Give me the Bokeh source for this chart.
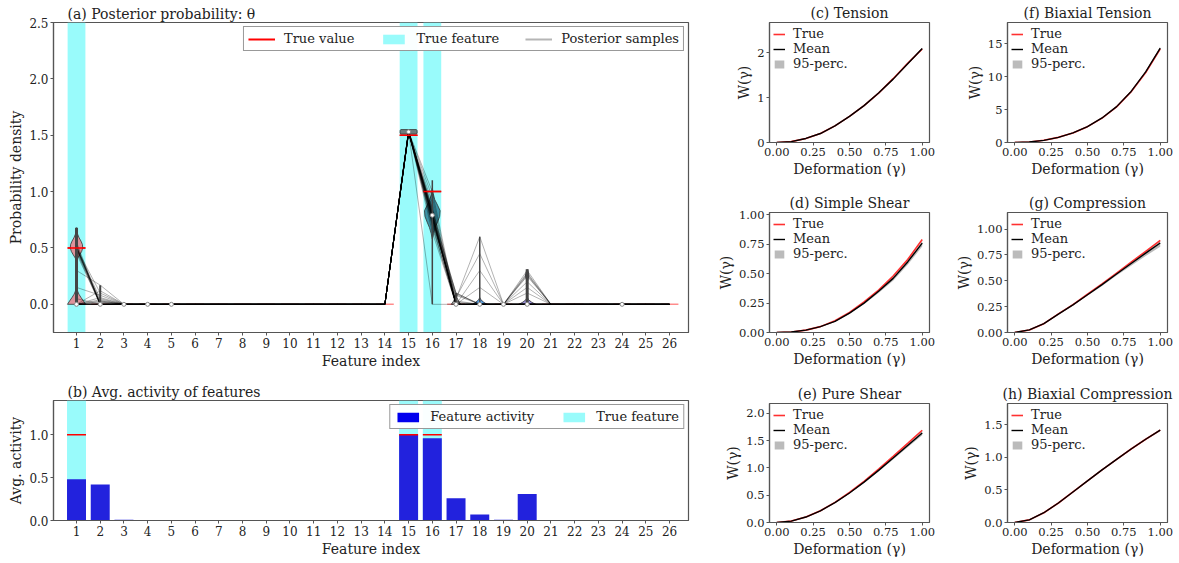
from bokeh.plotting import figure
from bokeh.layouts import row, column
from bokeh.models import Range1d, FixedTicker, PrintfTickFormatter, Legend, LegendItem
from bokeh.embed import file_html
from bokeh.resources import INLINE

FONT = "DejaVu Serif"
NAN = float("nan")

# ---------------- data: panel (a) ----------------
features = list(range(1, 27))
true_features = [1, 15, 16]
true_value = [0.5, 0, 0, 0, 0, 0, 0, 0, 0, 0, 0, 0, 0, 0, 1.5, 1.0,
              0, 0, 0, 0, 0, 0, 0, 0, 0, 0]

# posterior samples (values per feature; features not listed are 0 in every sample)
s_f1 = [0.5, 0.52, 0.48, 0.51, 0.49, 0.53, 0.47, 0.5, 0.55, 0.45, 0.5, 0.51, 0.49, 0.3, 0.15,
        0, 0, 0, 0, 0, 0, 0, 0, 0, 0, 0, 0, 0, 0, 0.05]
s_f2 = [0, 0, 0, 0, 0.02, 0, 0, 0.05, 0, 0, 0.1, 0, 0.03, 0.17, 0.08,
        0, 0.04, 0, 0.06, 0, 0.02, 0, 0.12, 0, 0, 0.01, 0, 0, 0.03, 0]
s_f15 = [1.53, 1.52, 1.54, 1.53, 1.53, 1.52, 1.54, 1.53, 1.53, 1.52, 1.53, 1.54, 1.53, 1.52, 1.53,
         1.53, 1.54, 1.53, 1.52, 1.53, 1.53, 1.54, 1.53, 1.52, 1.53, 1.53, 1.54, 1.53, 1.52, 1.53]
s_f16 = [0.78, 0.8, 0.75, 0.82, 0.7, 0.85, 0.77, 0.79, 0.72, 0.9, 0.76, 0.81, 0.74, 0.83, 0.78,
         0.68, 0.8, 0.95, 0.77, 0.73, 0.86, 0.79, 0.64, 0.81, 0.76, 1.0, 0.78, 0.71, 0.84, 0]
s_f17 = [0, 0, 0.1, 0, 0, 0.05, 0, 0, 0.08, 0, 0, 0, 0.03, 0, 0,
         0, 0.1, 0, 0, 0.06, 0, 0, 0, 0, 0.02, 0, 0, 0, 0.09, 0]
s_f18 = [0, 0, 0, 0, 0, 0.6, 0, 0, 0, 0, 0, 0.3, 0, 0, 0,
         0, 0, 0, 0, 0.45, 0, 0, 0, 0, 0, 0, 0.15, 0, 0, 0]
s_f20 = [0, 0.27, 0, 0, 0, 0, 0.25, 0, 0, 0.3, 0, 0, 0, 0, 0.1,
         0, 0, 0.2, 0, 0, 0, 0.28, 0, 0, 0, 0.15, 0, 0, 0, 0.26]
sample_cols = {1: s_f1, 2: s_f2, 15: s_f15, 16: s_f16, 17: s_f17, 18: s_f18, 20: s_f20}

# violin outlines (y, half width) per feature
v1_y = [0.0, 0.03, 0.06, 0.09, 0.12, 0.15, 0.38, 0.41, 0.44, 0.47, 0.50, 0.53, 0.56, 0.59, 0.62, 0.65, 0.68]
v1_w = [0.38, 0.29, 0.19, 0.10, 0.04, 0.02, 0.01, 0.05, 0.14, 0.22, 0.26, 0.25, 0.19, 0.11, 0.05, 0.02, 0.0]
v15_y = [1.51, 1.52, 1.53, 1.54, 1.55]
v15_w = [0.33, 0.36, 0.36, 0.36, 0.33]
v16_y = [0.58, 0.63, 0.68, 0.73, 0.78, 0.83, 0.88, 0.93, 0.98, 1.03]
v16_w = [0.0, 0.05, 0.12, 0.22, 0.31, 0.33, 0.22, 0.10, 0.04, 0.0]
v17_y = [0.0, 0.03, 0.06, 0.10]
v17_w = [0.2, 0.1, 0.04, 0.0]
v18_y = [0.0, 0.02, 0.04, 0.06]
v18_w = [0.30, 0.16, 0.05, 0.0]
v20_y = [0.0, 0.02, 0.04, 0.06, 0.10, 0.20, 0.23, 0.26, 0.29, 0.31]
v20_w = [0.35, 0.18, 0.06, 0.01, 0.01, 0.01, 0.05, 0.07, 0.04, 0.0]
violins = [(1, v1_y, v1_w, "#e8808a"), (15, v15_y, v15_w, "#666666"), (16, v16_y, v16_w, "#2a7f94"),
           (17, v17_y, v17_w, "#999999"), (18, v18_y, v18_w, "#3a8ee0"), (20, v20_y, v20_w, "#8a7fd6")]

# extrema bars
cbar_x = [1, 2, 16, 17, 18, 20]
cbar_lo = [0, 0, 0, 0, 0, 0]
cbar_hi = [0.68, 0.17, 1.1, 0.1, 0.6, 0.31]
cbar_style_w = [3.0, 2.0, 1.5, 1.5, 1.5, 3.0]

# medians
med_x = [1, 2, 3, 4, 5, 15, 16, 17, 18, 19, 20, 24]
med_y = [0, 0, 0, 0, 0, 1.53, 0.79, 0, 0, 0, 0, 0]

# ---------------- data: panel (b) ----------------
activity = [0.48, 0.42, 0.01, 0, 0, 0, 0, 0, 0, 0, 0, 0, 0, 0, 1.0, 0.96,
            0.26, 0.07, 0.01, 0.31, 0, 0, 0, 0, 0, 0]
true_activity = [1, 0, 0, 0, 0, 0, 0, 0, 0, 0, 0, 0, 0, 0, 1, 1,
                 0, 0, 0, 0, 0, 0, 0, 0, 0, 0]

# ---------------- data: right panels ----------------
gamma = [0.0, 0.1, 0.2, 0.3, 0.4, 0.5, 0.6, 0.7, 0.8, 0.9, 1.0]
c_true = [0, 0.02, 0.09, 0.20, 0.37, 0.58, 0.82, 1.10, 1.42, 1.76, 2.08]
c_mean = [0, 0.02, 0.09, 0.20, 0.37, 0.58, 0.82, 1.10, 1.41, 1.75, 2.09]
c_lo = [0, 0.02, 0.088, 0.197, 0.365, 0.573, 0.81, 1.087, 1.395, 1.73, 2.06]
c_hi = [0, 0.02, 0.092, 0.203, 0.375, 0.587, 0.83, 1.113, 1.425, 1.77, 2.11]

d_true = [0, 0.004, 0.02, 0.05, 0.10, 0.17, 0.26, 0.36, 0.48, 0.62, 0.79]
d_mean = [0, 0.004, 0.02, 0.05, 0.095, 0.165, 0.25, 0.35, 0.46, 0.60, 0.76]
d_lo = [0, 0.004, 0.019, 0.048, 0.09, 0.158, 0.24, 0.335, 0.44, 0.575, 0.73]
d_hi = [0, 0.004, 0.021, 0.052, 0.10, 0.172, 0.26, 0.36, 0.475, 0.615, 0.775]

e_true = [0, 0.026, 0.10, 0.216, 0.369, 0.55, 0.755, 0.978, 1.212, 1.45, 1.69]
e_mean = [0, 0.026, 0.10, 0.214, 0.363, 0.54, 0.74, 0.955, 1.18, 1.41, 1.64]
e_lo = [0, 0.025, 0.098, 0.21, 0.356, 0.53, 0.725, 0.935, 1.155, 1.38, 1.60]
e_hi = [0, 0.026, 0.101, 0.217, 0.368, 0.548, 0.752, 0.972, 1.205, 1.44, 1.68]

f_true = [0, 0.08, 0.33, 0.78, 1.45, 2.4, 3.7, 5.4, 7.7, 10.6, 14.2]
f_mean = [0, 0.08, 0.33, 0.78, 1.45, 2.42, 3.72, 5.44, 7.75, 10.7, 14.3]
f_lo = [0, 0.078, 0.325, 0.77, 1.43, 2.37, 3.65, 5.33, 7.6, 10.45, 14.0]
f_hi = [0, 0.082, 0.335, 0.79, 1.47, 2.45, 3.77, 5.5, 7.85, 10.85, 14.5]

g_true = [0, 0.025, 0.085, 0.18, 0.27, 0.37, 0.47, 0.575, 0.68, 0.785, 0.89]
g_mean = [0, 0.025, 0.085, 0.178, 0.267, 0.365, 0.463, 0.565, 0.667, 0.767, 0.865]
g_lo = [0, 0.024, 0.083, 0.174, 0.26, 0.355, 0.45, 0.55, 0.645, 0.74, 0.83]
g_hi = [0, 0.026, 0.087, 0.181, 0.272, 0.372, 0.472, 0.577, 0.682, 0.786, 0.89]

h_true = [0, 0.04, 0.15, 0.30, 0.47, 0.64, 0.81, 0.97, 1.13, 1.28, 1.42]
h_mean = [0, 0.04, 0.15, 0.30, 0.47, 0.64, 0.81, 0.97, 1.13, 1.28, 1.42]
h_lo = [0, 0.039, 0.148, 0.297, 0.466, 0.635, 0.803, 0.962, 1.12, 1.268, 1.405]
h_hi = [0, 0.041, 0.152, 0.303, 0.474, 0.645, 0.817, 0.978, 1.14, 1.292, 1.435]

AX = "#555555"
TXT = "#222222"


def style(p, tick_size, label_size, title_size="14px"):
    p.grid.visible = False
    p.background_fill_color = "white"
    p.border_fill_color = "white"
    p.outline_line_color = AX
    p.outline_line_width = 1.2
    for ax in p.axis:
        ax.axis_line_color = AX
        ax.axis_line_width = 1.2
        ax.major_tick_line_color = AX
        ax.major_tick_out = 3
        ax.major_tick_in = 0
        ax.minor_tick_line_color = None
        ax.major_label_text_font = FONT
        ax.major_label_text_font_size = tick_size
        ax.major_label_text_color = TXT
        ax.major_label_text_line_height = 1.0
        ax.axis_label_text_font = FONT
        ax.axis_label_text_font_size = label_size
        ax.axis_label_text_font_style = "normal"
        ax.axis_label_text_color = TXT
        ax.axis_label_text_line_height = 1.0
        ax.major_label_standoff = 2
        ax.axis_label_standoff = 2
    p.title.text_font = FONT
    p.title.text_font_size = title_size
    p.title.text_font_style = "normal"
    p.title.text_color = TXT


def style_legend(lg):
    lg.label_text_font = FONT
    lg.label_text_font_size = "13px"
    lg.label_text_color = TXT
    lg.glyph_width = 27
    lg.glyph_height = 12
    lg.label_height = 14
    lg.label_standoff = 9
    lg.spacing = 26
    lg.padding = 4
    lg.margin = 4
    lg.border_line_color = "#333333"
    lg.border_line_width = 1


CYAN = "#99fbfb"

# ---------------- panel (a) ----------------
pa = figure(width=700, height=376, x_range=Range1d(0.03, 26.8), y_range=Range1d(-0.25, 2.5),
            output_backend="svg", toolbar_location=None, title="(a) Posterior  probability: θ",
            min_border_left=53, min_border_right=12, min_border_top=22, min_border_bottom=44)
style(pa, "12px", "14px")
pa.title.align = "left"
pa.title.offset = 14
pa.title.standoff = 2

r_band = pa.vbar(x=true_features, top=2.5, bottom=-0.25, width=0.75, fill_color=CYAN, line_color=None)

# true-value lines
tv_x0 = [f - 0.375 for f in features]
tv_x1 = [f + 0.375 for f in features]
tv_alpha = [0.95 if v > 0 else 0.45 for v in true_value]
pa.segment(x0=tv_x0, x1=tv_x1, y0=true_value, y1=true_value, line_color="red",
           line_alpha=tv_alpha, line_width=1.5)

# violins
for f, vy, vw, col in violins:
    xs = [f + w for w in vw] + [f - w for w in reversed(vw)]
    ys = list(vy) + list(reversed(vy))
    pa.patch(xs, ys, fill_color=col, fill_alpha=0.85, line_color="#333333", line_width=0.8)

# posterior sample lines
n_samp = len(s_f1)
paths = []
for i in range(n_samp):
    paths.append([sample_cols[f][i] if f in sample_cols else 0 for f in features])
pa.multi_line([features] * n_samp, paths, line_color="black", line_alpha=0.3, line_width=1)

# extrema bars
for x, lo, hi, w in zip(cbar_x, cbar_lo, cbar_hi, cbar_style_w):
    pa.segment(x0=[x], x1=[x], y0=[lo], y1=[hi], line_color="#444444", line_width=w)

# strong true-value lines on top for true features
tf_idx = [f - 1 for f in true_features]
pa.segment(x0=[tv_x0[i] for i in tf_idx], x1=[tv_x1[i] for i in tf_idx],
           y0=[true_value[i] for i in tf_idx], y1=[true_value[i] for i in tf_idx],
           line_color="red", line_width=1.5)

pa.scatter(med_x, med_y, size=4, fill_color="white", line_color="#888888", line_width=1)

pa.xaxis.ticker = FixedTicker(ticks=features)
pa.yaxis.ticker = FixedTicker(ticks=[0, 0.5, 1.0, 1.5, 2.0, 2.5])
pa.yaxis.formatter = PrintfTickFormatter(format="%.1f")
pa.xaxis.axis_label = "Feature index"
pa.yaxis.axis_label = "Probability density"

# legend proxies (not drawn: NaN)
p_true = pa.line(x=[NAN], y=[NAN], line_color="red", line_width=2)
p_samp = pa.line(x=[NAN], y=[NAN], line_color="#b5b5b5", line_width=2)
leg_a = Legend(items=[LegendItem(label="True value", renderers=[p_true]),
                      LegendItem(label="True feature", renderers=[r_band]),
                      LegendItem(label="Posterior samples", renderers=[p_samp])],
               location="top_right", orientation="horizontal")
style_legend(leg_a)
pa.add_layout(leg_a)

# ---------------- panel (b) ----------------
pb = figure(width=700, height=187, x_range=Range1d(0.03, 26.8), y_range=Range1d(0, 1.4),
            output_backend="svg", toolbar_location=None, title="(b) Avg. activity of features",
            min_border_left=53, min_border_right=12, min_border_top=24, min_border_bottom=43)
style(pb, "12px", "14px")
pb.title.align = "left"
pb.title.offset = 14
pb.title.standoff = 2
rb_band = pb.vbar(x=true_features, top=1.4, width=0.8, fill_color=CYAN, line_color=None)
rb_bar = pb.vbar(x=features, top=activity, width=0.8, fill_color="#2222dd", line_color=None)
ta_x = [f for f, t in zip(features, true_activity) if t > 0]
ta_y = [t for t in true_activity if t > 0]
pb.segment(x0=[x - 0.4 for x in ta_x], x1=[x + 0.4 for x in ta_x], y0=ta_y, y1=ta_y,
           line_color="red", line_width=1.5)
pb.xaxis.ticker = FixedTicker(ticks=features)
pb.yaxis.ticker = FixedTicker(ticks=[0, 0.5, 1.0])
pb.yaxis.formatter = PrintfTickFormatter(format="%.1f")
pb.xaxis.axis_label = "Feature index"
pb.yaxis.axis_label = "Avg. activity"
p_act = pb.vbar(x=[NAN], top=[NAN], width=0.8, fill_color="#0000ee", line_color=None)
leg_b = Legend(items=[LegendItem(label="Feature activity", renderers=[p_act]),
                      LegendItem(label="True feature", renderers=[rb_band])],
               location="top_right", orientation="horizontal")
style_legend(leg_b)
pb.add_layout(leg_b)


# ---------------- right panels ----------------
def wpanel(title, true, mean, lo, hi, ymax, yticks, fmt, w, h, bl, br, bt, bb):
    p = figure(width=w, height=h, x_range=Range1d(-0.05, 1.05), y_range=Range1d(0, ymax),
               output_backend="svg", toolbar_location=None, title=title,
               min_border_left=bl, min_border_right=br, min_border_top=bt, min_border_bottom=bb)
    style(p, "11.5px", "14px")
    p.title.align = "center"
    p.title.standoff = 4
    rband = p.varea(x=gamma, y1=lo, y2=hi, fill_color="#bbbbbb")
    rtrue = p.line(gamma, true, line_color="#ff3030", line_width=1.6)
    rmean = p.line(gamma, mean, line_color="black", line_width=1.4)
    p.xaxis.ticker = FixedTicker(ticks=[0, 0.25, 0.5, 0.75, 1.0])
    p.xaxis.formatter = PrintfTickFormatter(format="%.2f")
    p.yaxis.ticker = FixedTicker(ticks=yticks)
    p.yaxis.formatter = PrintfTickFormatter(format=fmt)
    p.xaxis.axis_label = "Deformation (γ)"
    p.yaxis.axis_label = "W(γ)"
    lg = Legend(items=[LegendItem(label="True", renderers=[rtrue]),
                       LegendItem(label="Mean", renderers=[rmean]),
                       LegendItem(label="95-perc.", renderers=[rband])],
                location="top_left", orientation="vertical")
    lg.label_text_font = FONT
    lg.label_text_font_size = "13px"
    lg.label_text_color = TXT
    lg.glyph_width = 12
    lg.glyph_height = 10
    lg.label_height = 13
    lg.label_standoff = 8
    lg.spacing = 0
    lg.padding = 2
    lg.margin = 2
    lg.border_line_alpha = 0
    lg.background_fill_alpha = 0
    p.add_layout(lg)
    return p


pc = wpanel("(c) Tension", c_true, c_mean, c_lo, c_hi, 2.67, [0, 1, 2], "%d", 240, 190, 69, 11, 22, 48)
pd = wpanel("(d) Simple Shear", d_true, d_mean, d_lo, d_hi, 1.02, [0, 0.25, 0.5, 0.75, 1.0], "%.2f",
            240, 190, 69, 11, 22, 48)
pe = wpanel("(e) Pure Shear", e_true, e_mean, e_lo, e_hi, 2.18, [0, 0.5, 1.0, 1.5, 2.0], "%.1f",
            240, 183, 69, 11, 23, 41)
pf = wpanel("(f) Biaxial Tension", f_true, f_mean, f_lo, f_hi, 18.2, [0, 5, 10, 15], "%d",
            239, 190, 67, 12, 22, 48)
pg = wpanel("(g) Compression", g_true, g_mean, g_lo, g_hi, 1.16, [0, 0.25, 0.5, 0.75, 1.0], "%.2f",
            239, 190, 67, 12, 22, 48)
ph = wpanel("(h) Biaxial Compression", h_true, h_mean, h_lo, h_hi, 1.83, [0, 0.5, 1.0, 1.5], "%.1f",
            239, 183, 67, 12, 23, 41)

layout = row(column(pa, pb), column(pc, pd, pe), column(pf, pg, ph))
open("out.html", "w").write(file_html(layout, INLINE))
